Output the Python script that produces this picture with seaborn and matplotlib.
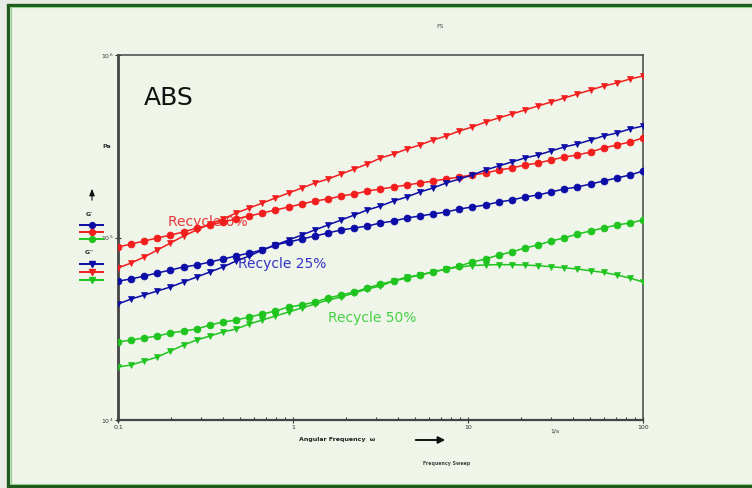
import numpy as np
import pandas as pd
import matplotlib
matplotlib.use("Agg")
import matplotlib.pyplot as plt
from matplotlib.lines import Line2D
from matplotlib.patches import Rectangle, FancyArrowPatch
from matplotlib.ticker import FixedLocator, NullFormatter, LogLocator
import seaborn as sns

# Angular frequency sweep (1/s)
freq = [0.1, 0.1189, 0.1413, 0.1679, 0.1995, 0.2371, 0.2818, 0.3350, 0.3981,
        0.4732, 0.5623, 0.6683, 0.7943, 0.9441, 1.122, 1.334, 1.585, 1.884,
        2.239, 2.661, 3.162, 3.758, 4.467, 5.309, 6.310, 7.499, 8.913, 10.59,
        12.59, 14.96, 17.78, 21.13, 25.12, 29.85, 35.48, 42.17, 50.12, 59.57,
        70.79, 84.14, 100.0]

# Storage modulus G' (Pa)
g1_r0 = [8.87e4, 9.21e4, 9.57e4, 9.94e4, 1.032e5, 1.072e5, 1.127e5, 1.171e5,
         1.216e5, 1.263e5, 1.312e5, 1.362e5, 1.415e5, 1.469e5, 1.526e5, 1.585e5,
         1.626e5, 1.688e5, 1.731e5, 1.798e5, 1.844e5, 1.891e5, 1.940e5, 1.989e5,
         2.040e5, 2.091e5, 2.145e5, 2.200e5, 2.256e5, 2.343e5, 2.403e5, 2.496e5,
         2.559e5, 2.658e5, 2.761e5, 2.832e5, 2.941e5, 3.093e5, 3.212e5, 3.336e5,
         3.509e5]
g1_r25 = [5.77e4, 5.925e4, 6.152e4, 6.390e4, 6.636e4, 6.892e4, 7.068e4, 7.341e4,
          7.624e4, 7.918e4, 8.224e4, 8.54e4, 9.10e4, 9.45e4, 9.81e4, 1.019e5,
          1.059e5, 1.100e5, 1.127e5, 1.156e5, 1.201e5, 1.231e5, 1.279e5, 1.312e5,
          1.346e5, 1.379e5, 1.433e5, 1.469e5, 1.507e5, 1.565e5, 1.605e5, 1.667e5,
          1.710e5, 1.776e5, 1.844e5, 1.891e5, 1.964e5, 2.040e5, 2.118e5, 2.200e5,
          2.313e5]
g1_r50 = [2.675e4, 2.744e4, 2.814e4, 2.886e4, 2.997e4, 3.073e4, 3.152e4, 3.315e4,
          3.443e4, 3.531e4, 3.667e4, 3.809e4, 3.956e4, 4.161e4, 4.267e4, 4.432e4,
          4.661e4, 4.841e4, 5.028e4, 5.288e4, 5.561e4, 5.77e4, 5.999e4, 6.231e4,
          6.471e4, 6.720e4, 6.980e4, 7.341e4, 7.624e4, 8.02e4, 8.33e4, 8.76e4,
          9.10e4, 9.57e4, 9.94e4, 1.045e5, 1.085e5, 1.127e5, 1.171e5, 1.201e5,
          1.247e5]

# Loss modulus G'' (Pa)
g2_r0 = [6.81e4, 7.25e4, 7.82e4, 8.54e4, 9.33e4, 1.02e5, 1.10e5, 1.186e5,
         1.263e5, 1.362e5, 1.450e5, 1.545e5, 1.646e5, 1.753e5, 1.867e5, 1.989e5,
         2.091e5, 2.228e5, 2.373e5, 2.528e5, 2.727e5, 2.868e5, 3.054e5, 3.212e5,
         3.421e5, 3.599e5, 3.834e5, 4.032e5, 4.295e5, 4.516e5, 4.750e5, 4.996e5,
         5.254e5, 5.526e5, 5.812e5, 6.114e5, 6.430e5, 6.763e5, 7.025e5, 7.388e5,
         7.672e5]
g2_r25 = [4.32e4, 4.60e4, 4.84e4, 5.09e4, 5.355e4, 5.705e4, 6.076e4, 6.471e4,
          6.892e4, 7.433e4, 7.918e4, 8.54e4, 9.10e4, 9.69e4, 1.032e5, 1.100e5,
          1.171e5, 1.247e5, 1.328e5, 1.415e5, 1.488e5, 1.585e5, 1.667e5, 1.776e5,
          1.867e5, 1.989e5, 2.091e5, 2.200e5, 2.343e5, 2.465e5, 2.592e5, 2.727e5,
          2.832e5, 2.979e5, 3.133e5, 3.253e5, 3.421e5, 3.599e5, 3.738e5, 3.931e5,
          4.083e5]
g2_r50 = [1.951e4, 2.002e4, 2.105e4, 2.214e4, 2.388e4, 2.576e4, 2.744e4, 2.886e4,
          3.035e4, 3.152e4, 3.357e4, 3.531e4, 3.715e4, 3.906e4, 4.109e4, 4.32e4,
          4.545e4, 4.721e4, 4.966e4, 5.222e4, 5.424e4, 5.77e4, 6.076e4, 6.231e4,
          6.471e4, 6.720e4, 6.89e4, 7.02e4, 7.07e4, 7.10e4, 7.10e4, 7.07e4,
          7.00e4, 6.92e4, 6.82e4, 6.72e4, 6.57e4, 6.44e4, 6.23e4, 6.00e4,
          5.70e4]

recycle = ["Recycle 0%", "Recycle 25%", "Recycle 50%"]
x_ticks = [0.1, 1, 10, 100]
x_tick_labels = ["0.1", "1", "10", "100"]

line_colors = {"Recycle 0%": "#f21d1d", "Recycle 25%": "#0c0ca6", "Recycle 50%": "#1fc41f"}
text_colors = {"Recycle 0%": "#e8383a", "Recycle 25%": "#3434c4", "Recycle 50%": "#45d045"}

frames = []
for name, g1, g2 in zip(recycle, [g1_r0, g1_r25, g1_r50], [g2_r0, g2_r25, g2_r50]):
    frames.append(pd.DataFrame({"freq": freq, "value": g1, "sample": name, "modulus": "G'"}))
    frames.append(pd.DataFrame({"freq": freq, "value": g2, "sample": name, "modulus": "G''"}))
df = pd.concat(frames, ignore_index=True)

bg = "#f0f5ea"
fig = plt.figure(figsize=(7.52, 4.88), dpi=100, facecolor="#e9ece5")
# panel with dark green frame
fig.add_artist(Rectangle((8 / 752, 2 / 488), 760 / 752, 481 / 488, transform=fig.transFigure,
                         facecolor=bg, edgecolor="#1d5c1d", linewidth=2.4, zorder=0))
fig.add_artist(Rectangle((10.5 / 752, 4 / 488), 760 / 752, 477 / 488, transform=fig.transFigure,
                         facecolor="none", edgecolor="#8fd08f", linewidth=0.8, zorder=0))

ax = fig.add_axes([118 / 752, 1 - 420 / 488, 525 / 752, 365 / 488])
ax.set_facecolor(bg)

sns.lineplot(data=df, x="freq", y="value", hue="sample", style="modulus",
             palette=line_colors, markers={"G'": "o", "G''": "v"}, dashes=False,
             linewidth=1.1, markersize=5.0, markeredgewidth=0.5, legend=False,
             estimator=None, sort=False, ax=ax, zorder=3)
for ln in ax.get_lines():
    ln.set_markeredgecolor(ln.get_color())

ax.set_xscale("log")
ax.set_yscale("log")
ax.set_xlim(0.1, 100)
ax.set_ylim(1e4, 1e6)

ax.xaxis.set_major_locator(FixedLocator(x_ticks))
ax.set_xticklabels(x_tick_labels)
ax.xaxis.set_minor_locator(LogLocator(base=10, subs=np.arange(2, 10)))
ax.xaxis.set_minor_formatter(NullFormatter())
ax.yaxis.set_major_locator(FixedLocator([1e4, 1e5, 1e6]))
ax.set_yticklabels([r"$10^4$", r"$10^5$", r"$10^6$"])
ax.yaxis.set_minor_locator(FixedLocator([]))
ax.tick_params(axis="both", which="major", direction="inout", length=4, width=0.8,
               labelsize=4.5, colors="#333333", pad=1.5)
ax.tick_params(axis="x", which="minor", direction="in", length=2, width=0.8, colors="#333333")
ax.set_xlabel("")
ax.set_ylabel("")

for side, lw in (("left", 2.0), ("bottom", 1.6), ("top", 1.1), ("right", 1.1)):
    ax.spines[side].set_linewidth(lw)
    ax.spines[side].set_color("#454545")

# sample labels
ax.text(0.193, 1.216e5, "Recycle 0%", color=text_colors["Recycle 0%"], fontsize=10,
        ha="left", va="center", zorder=1)
ax.text(0.485, 7.17e4, "Recycle 25%", color=text_colors["Recycle 25%"], fontsize=10,
        ha="left", va="center", zorder=1)
ax.text(1.585, 3.62e4, "Recycle 50%", color=text_colors["Recycle 50%"], fontsize=10,
        ha="left", va="center", zorder=1)

fig.text(144 / 752, 1 - 105 / 488, "ABS", fontsize=18, color="#111111", ha="left", va="baseline")
fig.text(440 / 752, 1 - 27 / 488, "FS", fontsize=4.5, color="#555555", ha="center", va="center")
fig.text(107 / 752, 1 - 147 / 488, "Pa", fontsize=4.5, color="#333333", ha="center", va="center",
         fontweight="bold")
fig.text(555 / 752, 1 - 431 / 488, "1/s", fontsize=4.5, color="#333333", ha="center", va="center")
fig.text(337 / 752, 1 - 440 / 488, "Angular Frequency  ω", fontsize=4.5, color="#222222",
         ha="center", va="center", fontweight="bold")
fig.text(447 / 752, 1 - 464 / 488, "Frequency Sweep", fontsize=3.4, color="#444444",
         ha="center", va="center", fontweight="bold")
fig.add_artist(FancyArrowPatch(
    (413 / 752, 1 - 440 / 488), (448 / 752, 1 - 440 / 488), transform=fig.transFigure,
    arrowstyle="-|>,head_length=4,head_width=2", color="#111111", linewidth=1.4))

# left-side legend: arrow, G' and G'' symbols
fig.add_artist(FancyArrowPatch(
    (92 / 752, 1 - 203 / 488), (92 / 752, 1 - 186 / 488), transform=fig.transFigure,
    arrowstyle="-|>,head_length=4,head_width=1.6", color="#111111", linewidth=0.8))
fig.text(89 / 752, 1 - 214 / 488, "G'", fontsize=4.5, color="#222222", ha="center",
         va="center", fontweight="bold")
fig.text(89 / 752, 1 - 252 / 488, "G''", fontsize=4.5, color="#222222", ha="center",
         va="center", fontweight="bold")
order = ["Recycle 25%", "Recycle 0%", "Recycle 50%"]
for ys, mk in (([225, 232, 239], "o"), ([264, 272, 280], "v")):
    for yy, name in zip(ys, order):
        yf = 1 - yy / 488
        fig.add_artist(Line2D([80 / 752, 103 / 752], [yf, yf], transform=fig.transFigure,
                              color=line_colors[name], linewidth=1.4))
        fig.add_artist(Line2D([91.5 / 752], [yf], transform=fig.transFigure, marker=mk,
                              markersize=4.2, color=line_colors[name]))

fig.savefig("out.png", dpi=100, facecolor=fig.get_facecolor())
